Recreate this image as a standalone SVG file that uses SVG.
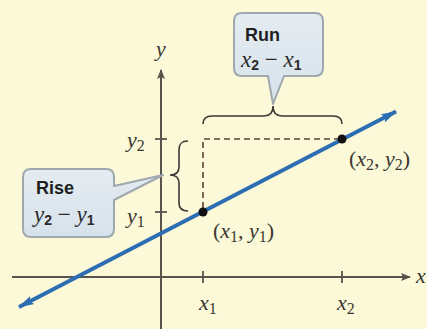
<svg xmlns="http://www.w3.org/2000/svg" width="427" height="329" viewBox="0 0 427 329">
<defs>
<style>
.axis{stroke:#59534d;stroke-width:2;fill:none}
.tick{stroke:#59534d;stroke-width:1.8}
.dash{stroke:#5e4038;stroke-width:1.6;stroke-dasharray:6 4;fill:none}
.brace{stroke:#3d3833;stroke-width:1.6;fill:none}
.callout{fill:url(#cg);stroke:#9fa8ae;stroke-width:2;stroke-linejoin:round}
.math{font-family:"Liberation Serif","Times New Roman",serif;font-size:22px;fill:#3a3632}
.mi{font-style:italic}
.sub{font-style:normal;font-size:16px}
.lbl{font-family:"Liberation Sans",Arial,sans-serif;font-weight:bold;font-size:18px;fill:#1e1e1e}
.cm{font-family:"Liberation Serif","Times New Roman",serif;font-style:italic;font-size:23px;fill:#2a2a2a}
.csub{font-family:"Liberation Sans",Arial,sans-serif;font-style:normal;font-weight:bold;font-size:14px}
</style>
<linearGradient id="cg" x1="0" y1="0" x2="0" y2="1">
<stop offset="0" stop-color="#e4ecf1"/>
<stop offset="1" stop-color="#d6e2eb"/>
</linearGradient>
<marker id="ah" viewBox="0 0 10 10" refX="9" refY="5" markerWidth="10" markerHeight="10" markerUnits="userSpaceOnUse" orient="auto">
<path d="M0,1 L10,5 L0,9 L2,5 Z" fill="#59534d"/>
</marker>
<marker id="bh" viewBox="0 0 16 10" refX="15" refY="5" markerWidth="16" markerHeight="10" markerUnits="userSpaceOnUse" orient="auto-start-reverse">
<path d="M0,0.5 L16,5 L0,9.5 L3,5 Z" fill="#2d6db2"/>
</marker>
</defs>
<rect x="0" y="0" width="427" height="329" fill="#fbf9d8"/>

<g id="axes">
<line class="axis" x1="12" y1="277" x2="410" y2="277" marker-end="url(#ah)"/>
<line class="axis" x1="161" y1="329" x2="161" y2="70" marker-end="url(#ah)"/>
<line class="tick" x1="203" y1="271" x2="203" y2="283"/>
<line class="tick" x1="342" y1="271" x2="342" y2="283"/>
<line class="tick" x1="155" y1="139" x2="167" y2="139"/>
<line class="tick" x1="155" y1="212" x2="167" y2="212"/>
<text class="math mi" x="156" y="56">y</text>
<text class="math mi" x="416" y="283">x</text>
<text class="math" x="127" y="147"><tspan class="mi">y</tspan><tspan class="sub" dy="4">2</tspan></text>
<text class="math" x="127" y="223"><tspan class="mi">y</tspan><tspan class="sub" dy="4">1</tspan></text>
<text class="math" x="199" y="310"><tspan class="mi">x</tspan><tspan class="sub" dy="4">1</tspan></text>
<text class="math" x="337" y="310"><tspan class="mi">x</tspan><tspan class="sub" dy="4">2</tspan></text>
</g>

<g id="connectors">
<polyline class="dash" points="203,208 203,139 338,139"/>
<path class="brace" d="M188,141 C181,141 179,144 179,150 L179,167 C179,172 176,175 170,175 C176,175 179,178 179,183 L179,203 C179,208 181,211 188,211"/>
<path class="brace" d="M203,124 C203,118 206,116 212,116 L264,116 C270,116 273,113 273,106 C273,113 276,116 282,116 L333,116 C339,116 342,118 342,124"/>
<line x1="19" y1="307" x2="396" y2="111.5" stroke="#2d6db2" stroke-width="4" marker-start="url(#bh)" marker-end="url(#bh)"/>
</g>

<g id="point1">
<circle cx="203" cy="212" r="4.5" fill="#111"/>
<text class="math" x="213" y="238">(<tspan class="mi">x</tspan><tspan class="sub" dy="4">1</tspan><tspan dy="-4">, </tspan><tspan class="mi">y</tspan><tspan class="sub" dy="4">1</tspan><tspan dy="-4">)</tspan></text>
</g>

<g id="point2">
<circle cx="342" cy="139" r="4.5" fill="#111"/>
<text class="math" x="349" y="166">(<tspan class="mi">x</tspan><tspan class="sub" dy="4">2</tspan><tspan dy="-4">, </tspan><tspan class="mi">y</tspan><tspan class="sub" dy="4">2</tspan><tspan dy="-4">)</tspan></text>
</g>

<g id="run">
<path class="callout" d="M242,13 H315 Q323,13 323,21 V68 Q323,76 315,76 H284 L273,104 L268,76 H242 Q234,76 234,68 V21 Q234,13 242,13 Z"/>
<text class="lbl" x="245" y="41">Run</text>
<text class="cm" x="241" y="67">x<tspan class="csub" dy="3">2</tspan><tspan dy="-3" font-style="normal"> − </tspan>x<tspan class="csub" dy="3">1</tspan></text>
</g>

<g id="rise">
<path class="callout" d="M31,169 H106 Q114,169 114,177 V186 L163,175 L114,200 V229 Q114,237 106,237 H31 Q23,237 23,229 V177 Q23,169 31,169 Z"/>
<text class="lbl" x="36" y="194">Rise</text>
<text class="cm" x="34" y="222">y<tspan class="csub" dy="3">2</tspan><tspan dy="-3" font-style="normal"> − </tspan>y<tspan class="csub" dy="3">1</tspan></text>
</g>
</svg>
